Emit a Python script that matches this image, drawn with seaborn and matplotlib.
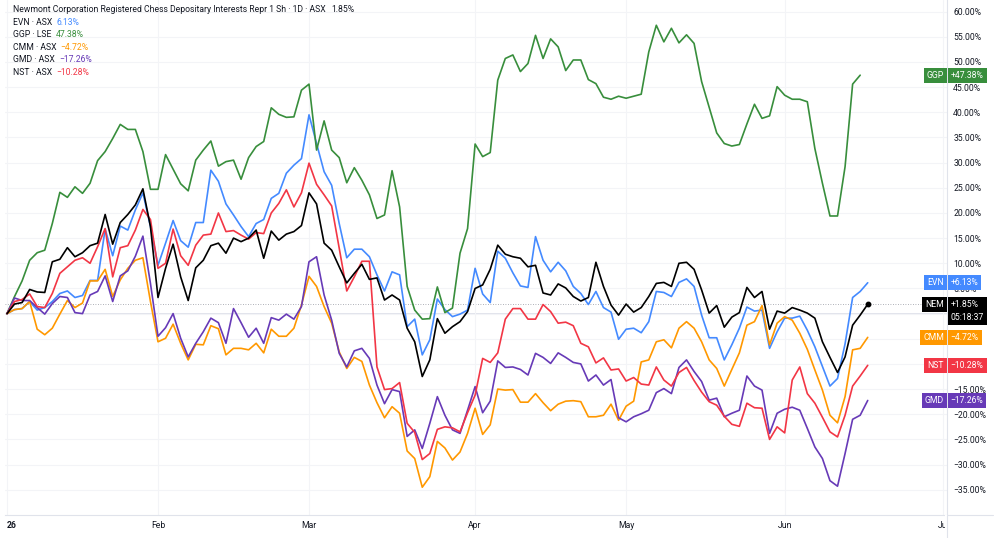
import numpy as np
import pandas as pd
import seaborn as sns
import matplotlib
matplotlib.use('Agg')
import matplotlib.pyplot as plt
from matplotlib.patches import Rectangle
from matplotlib.lines import Line2D

sns.set_theme(style="white")
plt.rcParams['font.family'] = ['Roboto', 'DejaVu Sans']

# % change since the first session, one value per ASX trading day
nem = [0, 1.9, 2.2, 4.8, 4.3, 4.2, 10.3, 10.8, 13.1, 11.3, 12.1, 13.5, 14.0, 19.7, 13.8, 18.1, 19.7, 21.6, 24.8, 17.3,
       3.2, 9.0, 13.8, 7.3, 2.6, 9.1, 10.6, 13.5, 14.0, 12.0, 15.0, 14.3, 15.0, 16.6, 11.0, 16.4, 14.6, 15.8, 16.3, 17.5,
       24.0, 21.8, 14.0, 12.6, 9.3, 6.1, 8.0, 9.8, 6.8, 7.1, 2.7, 3.7, 2.7, -2.9, -5.6, -12.5, -9.2, -1.0, -3.9, -2.6,
       -1.6, 0.4, 5.0, 5.7, 8.8, 13.6, 11.8, 11.3, 11.0, 9.3, 9.6, 4.1, 3.7, 5.9, 5.1, 3.4, 2.5, 3.2, 10.2, 5.4,
       1.7, -0.3, 1.9, 0.3, 1.2, 3.4, 6.0, 6.2, 5.4, 10.0, 10.2, 8.8, 4.7, 0.1, 1.6, -2.7, -0.7, 0.2, 5.2, 3.2,
       4.4, -3.1, 0.5, 0.1, 1.2, 0.7, 0.1, -0.9, -5.6, -8.7, -11.7, -8.6, -2.3, -0.3, 1.85]
evn = [0, 0.8, 1.0, 2.4, 0.7, 1.2, 2.4, 4.0, 4.5, 3.2, 3.6, 6.6, 6.6, 16.8, 11.5, 17.4, 16.6, 20.6, 24.0, 17.3,
       9.6, 14.0, 18.5, 14.5, 13.2, 18.1, 18.1, 28.5, 26.3, 21.8, 19.6, 17.3, 15.3, 17.9, 18.7, 22.9, 23.9, 27.9, 29.5, 30.8,
       39.5, 33.8, 28.2, 25.5, 17.9, 11.1, 12.8, 12.8, 11.3, 7.7, 4.5, 8.3, 7.7, -2.6, -1.1, -8.2, -5.2, 2.9, 0.8, -0.6,
       -0.1, 0.7, 9.0, 3.9, 2.2, 12.4, 11.0, 8.1, 5.5, 5.2, 15.3, 10.6, 8.3, 10.2, 8.5, 5.4, 4.0, 1.8, 4.4, 1.2,
       0.3, -5.1, -3.1, -2.9, -3.8, -1.6, 4.4, 4.2, 3.4, 6.2, 6.9, 5.4, -0.3, -4.8, -4.8, -9.2, -6.2, -2.9, 1.3, 0.5,
       0.7, -6.9, -3.6, -0.9, -0.9, -0.5, -3.3, -6.6, -10.5, -14.4, -12.9, -6.0, 3.2, 4.4, 6.13]
ggp = [0, 3.4, 6.5, 10.6, 12.1, 12.6, 17.9, 24.1, 23.1, 25.2, 23.9, 25.9, 30.4, 32.2, 34.8, 37.6, 36.6, 36.6, 32.2, 24.7,
       24.7, 31.6, 28.7, 25.8, 24.4, 30.5, 32.5, 34.3, 29.3, 30.2, 30.5, 26.7, 31.0, 33.2, 34.2, 40.9, 39.6, 39.0, 39.1, 44.4,
       45.6, 32.5, 38.3, 32.5, 31.0, 26.0, 29.0, 26.5, 23.6, 18.9, 19.6, 28.4, 21.2, 5.4, 0.7, -1.1, -1.0, 5.3, 0.2, 1.1,
       12.0, 16.9, 33.7, 31.2, 32.0, 46.4, 50.7, 51.4, 48.1, 49.7, 55.3, 50.7, 54.6, 53.0, 48.3, 50.4, 50.4, 46.5, 45.7, 43.0,
       42.6, 43.2, 42.8, 43.2, 43.6, 52.0, 57.3, 54.0, 56.7, 53.8, 55.4, 53.7, 46.1, 41.0, 35.9, 33.8, 33.3, 33.6, 37.7, 41.6,
       38.8, 39.3, 45.1, 43.4, 42.6, 42.6, 42.1, 32.8, 25.9, 19.4, 19.4, 29.2, 45.6, 47.38, np.nan]
cmm = [0, 0.8, 1.0, 2.4, -3.1, -4.2, -2.9, -0.1, 2.6, 1.2, 2.1, 6.5, 6.5, 8.8, 3.4, 6.7, 9.0, 10.6, 11.1, 2.4,
       -5.6, -4.9, -2.1, -5.9, -9.2, -6.1, -6.2, -2.4, -3.0, -8.2, -6.9, -6.9, -7.2, -5.9, -7.8, -3.1, -4.5, -4.5, -2.9, 1.7,
       7.4, 5.4, 1.4, -1.9, -7.6, -10.9, -8.7, -9.5, -14.2, -17.7, -20.7, -18.5, -19.8, -27.3, -28.8, -34.5, -32.4, -25.4, -26.7, -29.1,
       -27.5, -23.8, -18.8, -24.0, -22.1, -15.0, -15.2, -15.1, -17.6, -17.6, -15.9, -17.7, -19.3, -18.0, -17.4, -17.3, -17.5, -20.5, -20.5, -20.2,
       -18.0, -21.2, -18.4, -17.4, -9.6, -9.2, -5.6, -5.2, -6.8, -2.9, -1.6, -2.9, -5.6, -9.2, -10.9, -14.4, -11.1, -7.8, -2.3, -1.6,
       1.6, -6.2, -1.9, -0.6, -1.3, -3.9, -7.1, -11.2, -15.2, -20.2, -21.7, -16.5, -7.2, -6.9, -4.72]
gmd = [0, 3.1, 2.6, 2.6, 1.2, -0.1, 2.0, 3.4, 3.2, 0.2, 0.0, 3.7, 4.4, 7.5, 2.4, 7.5, 8.5, 11.4, 15.4, 6.0,
       -4.5, -2.8, 0.0, -4.9, -8.6, -5.9, -3.6, -0.9, -1.8, -5.9, 1.0, -1.8, -4.7, -2.9, -5.9, -0.8, -1.3, -0.1, -1.1, 1.4,
       10.3, 11.3, 3.7, -1.3, -7.9, -10.6, -7.4, -6.9, -8.9, -14.2, -17.9, -15.1, -15.5, -24.4, -23.1, -26.8, -21.8, -16.5, -20.2, -23.1,
       -23.8, -19.2, -14.5, -19.7, -17.4, -9.4, -10.7, -10.6, -11.1, -12.2, -7.9, -8.7, -9.9, -7.8, -8.7, -9.7, -10.0, -13.4, -12.2, -14.2,
       -13.1, -20.7, -21.5, -20.5, -19.9, -19.2, -15.7, -14.9, -15.9, -10.7, -9.2, -11.5, -13.5, -17.2, -16.8, -20.5, -19.8, -19.2, -12.4, -14.4,
       -15.2, -23.8, -19.8, -19.0, -18.6, -19.2, -22.8, -26.5, -28.8, -33.2, -34.3, -27.8, -21.0, -20.2, -17.26]
nst = [0, 2.4, 2.8, 3.9, 1.4, 1.2, 4.0, 8.0, 9.3, 10.6, 11.1, 10.0, 13.3, 16.9, 7.3, 13.1, 13.5, 16.6, 20.7, 18.7,
       9.0, 10.0, 16.8, 11.5, 9.6, 13.6, 15.6, 15.8, 20.0, 16.3, 16.5, 15.6, 14.8, 16.1, 15.9, 20.0, 21.9, 24.6, 21.2, 24.0,
       29.9, 25.7, 23.6, 21.4, 13.0, 4.5, 7.3, 10.4, 10.4, -10.6, -15.1, -14.9, -13.7, -21.8, -23.6, -29.0, -27.8, -23.0, -22.5, -22.7,
       -23.5, -19.7, -16.2, -8.9, -9.7, -7.8, -1.1, 1.0, 1.0, -1.1, -1.1, 1.8, 0.4, -1.9, -1.7, -2.4, -5.9, -6.6, -9.8, -8.8,
       -11.2, -11.0, -13.4, -12.7, -14.0, -14.2, -10.6, -13.2, -14.4, -11.7, -10.7, -13.3, -15.6, -17.5, -18.2, -20.4, -22.0, -22.4, -17.8, -18.7,
       -18.8, -25.0, -22.5, -23.7, -13.2, -10.6, -15.9, -17.8, -20.6, -23.5, -24.5, -20.2, -14.4, -12.4, -10.28]

tickers = ['EVN', 'GGP', 'CMM', 'GMD', 'NST', 'NEM']
exchanges = ['ASX', 'LSE', 'ASX', 'ASX', 'ASX', 'ASX']
series = [evn, ggp, cmm, gmd, nst, nem]
colors = {'EVN': '#448aff', 'GGP': '#388e3c', 'CMM': '#ff9800',
          'GMD': '#673ab7', 'NST': '#f23645', 'NEM': '#000000'}

month_pos = [0, 20, 40, 62, 82, 103, 124]
month_lbl = ['26', 'Feb', 'Mar', 'Apr', 'May', 'Jun', 'Jul']
hidden_ticks = [0, -5, -10]  # price scale labels covered by the value tags

title = 'Newmont Corporation Registered Chess Depositary Interests Repr 1 Sh \u00b7 1D \u00b7 ASX'

df = pd.concat([pd.DataFrame({'day': np.arange(len(v)), 'change': v, 'ticker': t})
                for t, v in zip(tickers, series)], ignore_index=True)

fs = 6.2
txt = '#131722'
W, H = 1000, 538

fig = plt.figure(figsize=(W / 100, H / 100), dpi=100)
ax = fig.add_axes([5 / W, 1 - 515 / H, 942 / W, 515 / H])

sns.lineplot(data=df, x='day', y='change', hue='ticker', hue_order=tickers,
             palette=colors, estimator=None, lw=1.2, legend=False, ax=ax)

last = df[df.ticker == 'NEM'].iloc[-1]
ax.plot(last['day'], last['change'], 'o', color='black', ms=3.2, zorder=6)

ax.axhline(0, color='#dfe2ea', lw=1.3, zorder=0)
ax.axhline(1.85, color='#9598a1', lw=0.6, ls=(0, (1, 2)), zorder=0)

ax.set_xlim(-0.265, 124.5)
ax.set_ylim(-40.02, 62.32)
ax.set_xticks(month_pos)
ax.set_xticklabels(month_lbl)
ax.set_yticks(np.arange(-35, 61, 5))
ax.yaxis.set_major_formatter(
    lambda v, p: '' if round(v) in hidden_ticks else f"{v:.2f}%".replace('-', '\u2212'))
ax.yaxis.tick_right()
ax.tick_params(axis='both', length=0, labelsize=fs, colors=txt)
ax.tick_params(axis='y', pad=4.5)
ax.tick_params(axis='x', pad=4)
first = ax.get_xticklabels()[0]
first.set_fontweight('bold')
first.set_horizontalalignment('left')
ax.grid(True, color='#f3f4f7', lw=0.8)
ax.set_xlabel('')
ax.set_ylabel('')
for s in ['top', 'left']:
    ax.spines[s].set_visible(False)
for s in ['right', 'bottom']:
    ax.spines[s].set_color('#e0e3eb')
    ax.spines[s].set_linewidth(0.8)

# hide the part of the last month label under the price scale
yb = 1 - 515 / H
fig.add_artist(Rectangle((944.5 / W, 0), 56 / W, yb, transform=fig.transFigure,
                         fc='white', ec='none', zorder=5))
fig.add_artist(Line2D([947 / W, 947 / W], [0, yb], color='#e0e3eb', lw=0.8, zorder=6))
fig.add_artist(Line2D([947 / W, 993 / W], [yb, yb], color='#e0e3eb', lw=0.8, zorder=6))

# legend block, top left
prev = fig.text(13 / W, 1 - 10 / H, title, fontsize=fs, color=txt, va='center')
ax.annotate('1.85%', xy=(1, 0.5), xycoords=prev, xytext=(4, 0), textcoords='offset points',
            va='center', fontsize=fs, color=txt)
for k, (t, ex, v) in enumerate(zip(tickers[:5], exchanges[:5], series[:5])):
    lv = [x for x in v if not np.isnan(x)][-1]
    row = fig.text(13 / W, 1 - (22.5 + 12.4 * k) / H, f'{t} \u00b7 {ex}', fontsize=fs, color=txt, va='center')
    ax.annotate(f'{lv:.2f}%'.replace('-', '\u2212'), xy=(1, 0.5), xycoords=row, xytext=(3, 0),
                textcoords='offset points', va='center', fontsize=fs, color=colors[t])

# last value tags on the price scale
for t, v in zip(tickers, series):
    lv = [x for x in v if not np.isnan(x)][-1]
    val = f'{lv:+.2f}%'.replace('-', '\u2212')
    box = dict(boxstyle='square,pad=0.35', fc=colors[t], ec='none')
    ax.annotate(t, xy=(1, lv), xycoords=('axes fraction', 'data'), xytext=(-2.2, 0),
                textcoords='offset points', ha='right', va='center', fontsize=fs,
                color='white', bbox=box, annotation_clip=False, zorder=10)
    if t == 'NEM':
        ax.annotate(val + '\n05:18:37', xy=(1, lv), xycoords=('axes fraction', 'data'), xytext=(2.6, 2.9),
                    textcoords='offset points', ha='left', va='top', fontsize=fs, linespacing=1.5,
                    color='white', bbox=box, annotation_clip=False, zorder=10)
    else:
        ax.annotate(val, xy=(1, lv), xycoords=('axes fraction', 'data'), xytext=(2.6, 0),
                    textcoords='offset points', ha='left', va='center', fontsize=fs,
                    color='white', bbox=box, annotation_clip=False, zorder=10)

fig.savefig('out.png', dpi=100)
